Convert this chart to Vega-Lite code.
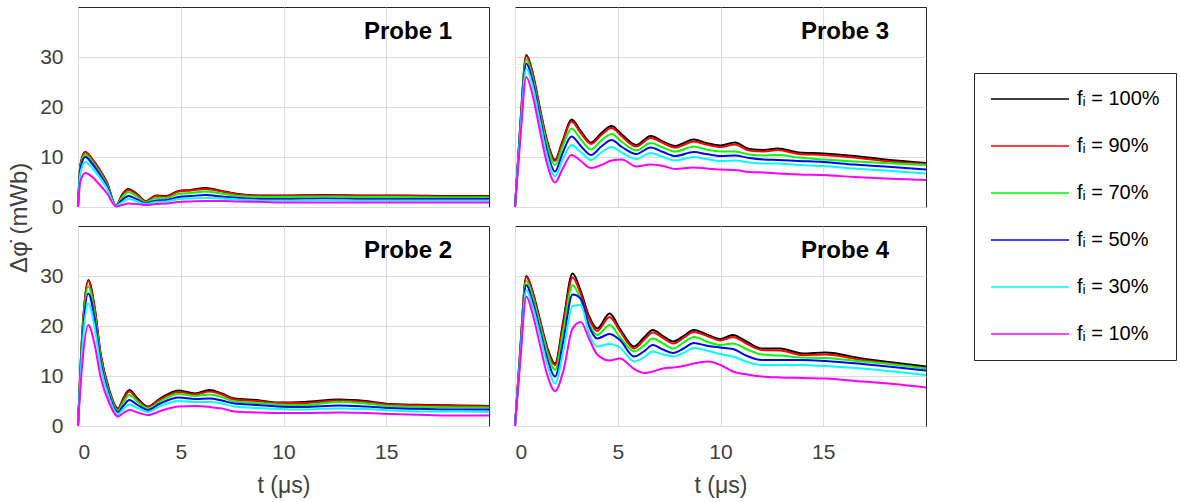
{
"$schema": "https://vega.github.io/schema/vega-lite/v6.json",
"background": "white",
"padding": {"left": 7, "top": 6, "right": 5, "bottom": 2},
"title": {"text": "Δφ̇ (mWb)", "orient": "left", "anchor": "middle", "fontSize": 24, "fontWeight": "normal", "color": "#404040", "font": "Liberation Sans", "offset": 8, "dx": 34},
"data": {"values": [
{"p":"Probe 1","f":"100","t":0,"v":0},{"p":"Probe 1","f":"100","t":0.12,"v":8.5},{"p":"Probe 1","f":"100","t":0.35,"v":11},{"p":"Probe 1","f":"100","t":0.7,"v":9.5},{"p":"Probe 1","f":"100","t":1.0,"v":7.8},{"p":"Probe 1","f":"100","t":1.4,"v":5},{"p":"Probe 1","f":"100","t":1.85,"v":0.3},{"p":"Probe 1","f":"100","t":2.15,"v":2.5},{"p":"Probe 1","f":"100","t":2.45,"v":3.6},{"p":"Probe 1","f":"100","t":2.9,"v":2.5},{"p":"Probe 1","f":"100","t":3.3,"v":1.2},{"p":"Probe 1","f":"100","t":3.8,"v":2.3},{"p":"Probe 1","f":"100","t":4.3,"v":2.2},{"p":"Probe 1","f":"100","t":4.9,"v":3.2},{"p":"Probe 1","f":"100","t":5.5,"v":3.4},{"p":"Probe 1","f":"100","t":6.2,"v":3.8},{"p":"Probe 1","f":"100","t":7.0,"v":3.2},{"p":"Probe 1","f":"100","t":7.8,"v":2.6},{"p":"Probe 1","f":"100","t":9,"v":2.3},{"p":"Probe 1","f":"100","t":10,"v":2.3},{"p":"Probe 1","f":"100","t":12,"v":2.4},{"p":"Probe 1","f":"100","t":14,"v":2.3},{"p":"Probe 1","f":"100","t":16,"v":2.3},{"p":"Probe 1","f":"100","t":18,"v":2.2},{"p":"Probe 1","f":"100","t":20,"v":2.2},
{"p":"Probe 1","f":"90","t":0,"v":0},{"p":"Probe 1","f":"90","t":0.12,"v":8.5},{"p":"Probe 1","f":"90","t":0.35,"v":11},{"p":"Probe 1","f":"90","t":0.7,"v":9.5},{"p":"Probe 1","f":"90","t":1.0,"v":7.7},{"p":"Probe 1","f":"90","t":1.4,"v":4.9},{"p":"Probe 1","f":"90","t":1.85,"v":0.3},{"p":"Probe 1","f":"90","t":2.15,"v":2.3},{"p":"Probe 1","f":"90","t":2.45,"v":3.4},{"p":"Probe 1","f":"90","t":2.9,"v":2.4},{"p":"Probe 1","f":"90","t":3.3,"v":1.1},{"p":"Probe 1","f":"90","t":3.8,"v":2.2},{"p":"Probe 1","f":"90","t":4.3,"v":2.1},{"p":"Probe 1","f":"90","t":4.9,"v":3.1},{"p":"Probe 1","f":"90","t":5.5,"v":3.3},{"p":"Probe 1","f":"90","t":6.2,"v":3.6},{"p":"Probe 1","f":"90","t":7.0,"v":3.1},{"p":"Probe 1","f":"90","t":7.8,"v":2.5},{"p":"Probe 1","f":"90","t":9,"v":2.2},{"p":"Probe 1","f":"90","t":10,"v":2.2},{"p":"Probe 1","f":"90","t":12,"v":2.3},{"p":"Probe 1","f":"90","t":14,"v":2.2},{"p":"Probe 1","f":"90","t":16,"v":2.2},{"p":"Probe 1","f":"90","t":18,"v":2.1},{"p":"Probe 1","f":"90","t":20,"v":2.1},
{"p":"Probe 1","f":"70","t":0,"v":0},{"p":"Probe 1","f":"70","t":0.12,"v":8},{"p":"Probe 1","f":"70","t":0.35,"v":10.5},{"p":"Probe 1","f":"70","t":0.7,"v":9},{"p":"Probe 1","f":"70","t":1.0,"v":7.3},{"p":"Probe 1","f":"70","t":1.4,"v":4.6},{"p":"Probe 1","f":"70","t":1.85,"v":0.2},{"p":"Probe 1","f":"70","t":2.15,"v":1.9},{"p":"Probe 1","f":"70","t":2.45,"v":3.0},{"p":"Probe 1","f":"70","t":2.9,"v":2.0},{"p":"Probe 1","f":"70","t":3.3,"v":0.9},{"p":"Probe 1","f":"70","t":3.8,"v":1.8},{"p":"Probe 1","f":"70","t":4.3,"v":1.8},{"p":"Probe 1","f":"70","t":4.9,"v":2.6},{"p":"Probe 1","f":"70","t":5.5,"v":2.8},{"p":"Probe 1","f":"70","t":6.2,"v":3.1},{"p":"Probe 1","f":"70","t":7.0,"v":2.7},{"p":"Probe 1","f":"70","t":7.8,"v":2.2},{"p":"Probe 1","f":"70","t":9,"v":2.0},{"p":"Probe 1","f":"70","t":10,"v":2.0},{"p":"Probe 1","f":"70","t":12,"v":2.1},{"p":"Probe 1","f":"70","t":14,"v":2.0},{"p":"Probe 1","f":"70","t":16,"v":2.0},{"p":"Probe 1","f":"70","t":18,"v":1.9},{"p":"Probe 1","f":"70","t":20,"v":1.9},
{"p":"Probe 1","f":"50","t":0,"v":0},{"p":"Probe 1","f":"50","t":0.12,"v":7.6},{"p":"Probe 1","f":"50","t":0.35,"v":10},{"p":"Probe 1","f":"50","t":0.7,"v":8.6},{"p":"Probe 1","f":"50","t":1.0,"v":6.9},{"p":"Probe 1","f":"50","t":1.4,"v":4.3},{"p":"Probe 1","f":"50","t":1.85,"v":0.2},{"p":"Probe 1","f":"50","t":2.15,"v":1.4},{"p":"Probe 1","f":"50","t":2.45,"v":2.2},{"p":"Probe 1","f":"50","t":2.9,"v":1.5},{"p":"Probe 1","f":"50","t":3.3,"v":0.7},{"p":"Probe 1","f":"50","t":3.8,"v":1.3},{"p":"Probe 1","f":"50","t":4.3,"v":1.4},{"p":"Probe 1","f":"50","t":4.9,"v":2.0},{"p":"Probe 1","f":"50","t":5.5,"v":2.2},{"p":"Probe 1","f":"50","t":6.2,"v":2.4},{"p":"Probe 1","f":"50","t":7.0,"v":2.1},{"p":"Probe 1","f":"50","t":7.8,"v":1.8},{"p":"Probe 1","f":"50","t":9,"v":1.6},{"p":"Probe 1","f":"50","t":10,"v":1.6},{"p":"Probe 1","f":"50","t":12,"v":1.7},{"p":"Probe 1","f":"50","t":14,"v":1.6},{"p":"Probe 1","f":"50","t":16,"v":1.6},{"p":"Probe 1","f":"50","t":18,"v":1.6},{"p":"Probe 1","f":"50","t":20,"v":1.6},
{"p":"Probe 1","f":"30","t":0,"v":0},{"p":"Probe 1","f":"30","t":0.12,"v":6.8},{"p":"Probe 1","f":"30","t":0.35,"v":9},{"p":"Probe 1","f":"30","t":0.7,"v":7.8},{"p":"Probe 1","f":"30","t":1.0,"v":6.2},{"p":"Probe 1","f":"30","t":1.4,"v":3.8},{"p":"Probe 1","f":"30","t":1.85,"v":0.2},{"p":"Probe 1","f":"30","t":2.15,"v":1.0},{"p":"Probe 1","f":"30","t":2.45,"v":1.6},{"p":"Probe 1","f":"30","t":2.9,"v":1.1},{"p":"Probe 1","f":"30","t":3.3,"v":0.6},{"p":"Probe 1","f":"30","t":3.8,"v":1.0},{"p":"Probe 1","f":"30","t":4.3,"v":1.1},{"p":"Probe 1","f":"30","t":4.9,"v":1.6},{"p":"Probe 1","f":"30","t":5.5,"v":1.7},{"p":"Probe 1","f":"30","t":6.2,"v":1.8},{"p":"Probe 1","f":"30","t":7.0,"v":1.7},{"p":"Probe 1","f":"30","t":7.8,"v":1.5},{"p":"Probe 1","f":"30","t":9,"v":1.3},{"p":"Probe 1","f":"30","t":10,"v":1.3},{"p":"Probe 1","f":"30","t":12,"v":1.4},{"p":"Probe 1","f":"30","t":14,"v":1.3},{"p":"Probe 1","f":"30","t":16,"v":1.3},{"p":"Probe 1","f":"30","t":18,"v":1.3},{"p":"Probe 1","f":"30","t":20,"v":1.3},
{"p":"Probe 1","f":"10","t":0,"v":0},{"p":"Probe 1","f":"10","t":0.12,"v":5.2},{"p":"Probe 1","f":"10","t":0.35,"v":6.8},{"p":"Probe 1","f":"10","t":0.7,"v":6.0},{"p":"Probe 1","f":"10","t":1.0,"v":4.7},{"p":"Probe 1","f":"10","t":1.4,"v":2.8},{"p":"Probe 1","f":"10","t":1.85,"v":0.1},{"p":"Probe 1","f":"10","t":2.15,"v":0.4},{"p":"Probe 1","f":"10","t":2.45,"v":0.7},{"p":"Probe 1","f":"10","t":2.9,"v":0.6},{"p":"Probe 1","f":"10","t":3.3,"v":0.4},{"p":"Probe 1","f":"10","t":3.8,"v":0.6},{"p":"Probe 1","f":"10","t":4.3,"v":0.7},{"p":"Probe 1","f":"10","t":4.9,"v":1.0},{"p":"Probe 1","f":"10","t":5.5,"v":1.1},{"p":"Probe 1","f":"10","t":6.2,"v":1.2},{"p":"Probe 1","f":"10","t":7.0,"v":1.2},{"p":"Probe 1","f":"10","t":7.8,"v":1.1},{"p":"Probe 1","f":"10","t":9,"v":1.0},{"p":"Probe 1","f":"10","t":10,"v":0.9},{"p":"Probe 1","f":"10","t":12,"v":0.9},{"p":"Probe 1","f":"10","t":14,"v":0.9},{"p":"Probe 1","f":"10","t":16,"v":0.9},{"p":"Probe 1","f":"10","t":18,"v":0.9},{"p":"Probe 1","f":"10","t":20,"v":0.9},
{"p":"Probe 3","f":"100","t":0,"v":0},{"p":"Probe 3","f":"100","t":0.25,"v":16},{"p":"Probe 3","f":"100","t":0.55,"v":30.4},{"p":"Probe 3","f":"100","t":0.85,"v":27},{"p":"Probe 3","f":"100","t":1.2,"v":20},{"p":"Probe 3","f":"100","t":1.55,"v":13.5},{"p":"Probe 3","f":"100","t":1.95,"v":9.4},{"p":"Probe 3","f":"100","t":2.3,"v":13},{"p":"Probe 3","f":"100","t":2.75,"v":17.5},{"p":"Probe 3","f":"100","t":3.2,"v":15.2},{"p":"Probe 3","f":"100","t":3.7,"v":12.9},{"p":"Probe 3","f":"100","t":4.2,"v":14.8},{"p":"Probe 3","f":"100","t":4.7,"v":16.2},{"p":"Probe 3","f":"100","t":5.2,"v":14.5},{"p":"Probe 3","f":"100","t":5.9,"v":12.4},{"p":"Probe 3","f":"100","t":6.6,"v":14.2},{"p":"Probe 3","f":"100","t":7.2,"v":13.1},{"p":"Probe 3","f":"100","t":7.8,"v":12.2},{"p":"Probe 3","f":"100","t":8.7,"v":13.5},{"p":"Probe 3","f":"100","t":9.3,"v":12.8},{"p":"Probe 3","f":"100","t":10,"v":12.3},{"p":"Probe 3","f":"100","t":10.7,"v":12.9},{"p":"Probe 3","f":"100","t":11.4,"v":11.6},{"p":"Probe 3","f":"100","t":12.1,"v":11.4},{"p":"Probe 3","f":"100","t":12.8,"v":11.7},{"p":"Probe 3","f":"100","t":13.8,"v":10.9},{"p":"Probe 3","f":"100","t":15,"v":10.7},{"p":"Probe 3","f":"100","t":16.5,"v":10.2},{"p":"Probe 3","f":"100","t":18,"v":9.5},{"p":"Probe 3","f":"100","t":20,"v":8.8},
{"p":"Probe 3","f":"90","t":0,"v":0},{"p":"Probe 3","f":"90","t":0.25,"v":15.8},{"p":"Probe 3","f":"90","t":0.55,"v":30.2},{"p":"Probe 3","f":"90","t":0.85,"v":26.8},{"p":"Probe 3","f":"90","t":1.2,"v":19.8},{"p":"Probe 3","f":"90","t":1.55,"v":13.2},{"p":"Probe 3","f":"90","t":1.95,"v":9.2},{"p":"Probe 3","f":"90","t":2.3,"v":12.7},{"p":"Probe 3","f":"90","t":2.75,"v":17.1},{"p":"Probe 3","f":"90","t":3.2,"v":14.8},{"p":"Probe 3","f":"90","t":3.7,"v":12.6},{"p":"Probe 3","f":"90","t":4.2,"v":14.4},{"p":"Probe 3","f":"90","t":4.7,"v":15.8},{"p":"Probe 3","f":"90","t":5.2,"v":14.1},{"p":"Probe 3","f":"90","t":5.9,"v":12.1},{"p":"Probe 3","f":"90","t":6.6,"v":13.8},{"p":"Probe 3","f":"90","t":7.2,"v":12.8},{"p":"Probe 3","f":"90","t":7.8,"v":11.9},{"p":"Probe 3","f":"90","t":8.7,"v":13.1},{"p":"Probe 3","f":"90","t":9.3,"v":12.5},{"p":"Probe 3","f":"90","t":10,"v":12.0},{"p":"Probe 3","f":"90","t":10.7,"v":12.5},{"p":"Probe 3","f":"90","t":11.4,"v":11.3},{"p":"Probe 3","f":"90","t":12.1,"v":11.1},{"p":"Probe 3","f":"90","t":12.8,"v":11.4},{"p":"Probe 3","f":"90","t":13.8,"v":10.6},{"p":"Probe 3","f":"90","t":15,"v":10.4},{"p":"Probe 3","f":"90","t":16.5,"v":9.9},{"p":"Probe 3","f":"90","t":18,"v":9.2},{"p":"Probe 3","f":"90","t":20,"v":8.6},
{"p":"Probe 3","f":"70","t":0,"v":0},{"p":"Probe 3","f":"70","t":0.25,"v":15.5},{"p":"Probe 3","f":"70","t":0.55,"v":29.5},{"p":"Probe 3","f":"70","t":0.85,"v":26},{"p":"Probe 3","f":"70","t":1.2,"v":19},{"p":"Probe 3","f":"70","t":1.55,"v":12.6},{"p":"Probe 3","f":"70","t":1.95,"v":8.4},{"p":"Probe 3","f":"70","t":2.3,"v":11.9},{"p":"Probe 3","f":"70","t":2.75,"v":15.7},{"p":"Probe 3","f":"70","t":3.2,"v":13.5},{"p":"Probe 3","f":"70","t":3.7,"v":11.5},{"p":"Probe 3","f":"70","t":4.2,"v":13.3},{"p":"Probe 3","f":"70","t":4.7,"v":14.6},{"p":"Probe 3","f":"70","t":5.2,"v":13},{"p":"Probe 3","f":"70","t":5.9,"v":11.3},{"p":"Probe 3","f":"70","t":6.6,"v":12.8},{"p":"Probe 3","f":"70","t":7.2,"v":11.9},{"p":"Probe 3","f":"70","t":7.8,"v":11.1},{"p":"Probe 3","f":"70","t":8.7,"v":12.1},{"p":"Probe 3","f":"70","t":9.3,"v":11.5},{"p":"Probe 3","f":"70","t":10,"v":11.1},{"p":"Probe 3","f":"70","t":10.7,"v":11.1},{"p":"Probe 3","f":"70","t":11.4,"v":10.5},{"p":"Probe 3","f":"70","t":12.1,"v":10.3},{"p":"Probe 3","f":"70","t":12.8,"v":10.4},{"p":"Probe 3","f":"70","t":13.8,"v":9.9},{"p":"Probe 3","f":"70","t":15,"v":9.5},{"p":"Probe 3","f":"70","t":16.5,"v":9.1},{"p":"Probe 3","f":"70","t":18,"v":8.8},{"p":"Probe 3","f":"70","t":20,"v":8.4},
{"p":"Probe 3","f":"50","t":0,"v":0},{"p":"Probe 3","f":"50","t":0.25,"v":15},{"p":"Probe 3","f":"50","t":0.55,"v":28.7},{"p":"Probe 3","f":"50","t":0.85,"v":25.3},{"p":"Probe 3","f":"50","t":1.2,"v":18.3},{"p":"Probe 3","f":"50","t":1.55,"v":11.4},{"p":"Probe 3","f":"50","t":1.95,"v":7.1},{"p":"Probe 3","f":"50","t":2.3,"v":10.6},{"p":"Probe 3","f":"50","t":2.75,"v":14.1},{"p":"Probe 3","f":"50","t":3.2,"v":12.2},{"p":"Probe 3","f":"50","t":3.7,"v":10.4},{"p":"Probe 3","f":"50","t":4.2,"v":12.1},{"p":"Probe 3","f":"50","t":4.7,"v":13.4},{"p":"Probe 3","f":"50","t":5.2,"v":12.0},{"p":"Probe 3","f":"50","t":5.9,"v":10.6},{"p":"Probe 3","f":"50","t":6.6,"v":11.9},{"p":"Probe 3","f":"50","t":7.2,"v":11.0},{"p":"Probe 3","f":"50","t":7.8,"v":10.2},{"p":"Probe 3","f":"50","t":8.7,"v":11.0},{"p":"Probe 3","f":"50","t":9.3,"v":10.6},{"p":"Probe 3","f":"50","t":10,"v":10.2},{"p":"Probe 3","f":"50","t":10.7,"v":10.3},{"p":"Probe 3","f":"50","t":11.4,"v":9.8},{"p":"Probe 3","f":"50","t":12.1,"v":9.5},{"p":"Probe 3","f":"50","t":12.8,"v":9.4},{"p":"Probe 3","f":"50","t":13.8,"v":9.2},{"p":"Probe 3","f":"50","t":15,"v":9.0},{"p":"Probe 3","f":"50","t":16.5,"v":8.5},{"p":"Probe 3","f":"50","t":18,"v":8.1},{"p":"Probe 3","f":"50","t":20,"v":7.5},
{"p":"Probe 3","f":"30","t":0,"v":0},{"p":"Probe 3","f":"30","t":0.25,"v":14.5},{"p":"Probe 3","f":"30","t":0.55,"v":27.7},{"p":"Probe 3","f":"30","t":0.85,"v":24.3},{"p":"Probe 3","f":"30","t":1.2,"v":17.3},{"p":"Probe 3","f":"30","t":1.55,"v":10.4},{"p":"Probe 3","f":"30","t":1.95,"v":6.1},{"p":"Probe 3","f":"30","t":2.3,"v":9.3},{"p":"Probe 3","f":"30","t":2.75,"v":12.4},{"p":"Probe 3","f":"30","t":3.2,"v":11},{"p":"Probe 3","f":"30","t":3.7,"v":9.4},{"p":"Probe 3","f":"30","t":4.2,"v":10.9},{"p":"Probe 3","f":"30","t":4.7,"v":12.0},{"p":"Probe 3","f":"30","t":5.2,"v":10.9},{"p":"Probe 3","f":"30","t":5.9,"v":9.6},{"p":"Probe 3","f":"30","t":6.6,"v":10.8},{"p":"Probe 3","f":"30","t":7.2,"v":10.0},{"p":"Probe 3","f":"30","t":7.8,"v":9.3},{"p":"Probe 3","f":"30","t":8.7,"v":10.0},{"p":"Probe 3","f":"30","t":9.3,"v":9.6},{"p":"Probe 3","f":"30","t":10,"v":9.2},{"p":"Probe 3","f":"30","t":10.7,"v":9.3},{"p":"Probe 3","f":"30","t":11.4,"v":8.9},{"p":"Probe 3","f":"30","t":12.1,"v":8.7},{"p":"Probe 3","f":"30","t":12.8,"v":8.7},{"p":"Probe 3","f":"30","t":13.8,"v":8.4},{"p":"Probe 3","f":"30","t":15,"v":8.2},{"p":"Probe 3","f":"30","t":16.5,"v":7.7},{"p":"Probe 3","f":"30","t":18,"v":7.3},{"p":"Probe 3","f":"30","t":20,"v":6.7},
{"p":"Probe 3","f":"10","t":0,"v":0},{"p":"Probe 3","f":"10","t":0.25,"v":13},{"p":"Probe 3","f":"10","t":0.55,"v":26},{"p":"Probe 3","f":"10","t":0.85,"v":22.5},{"p":"Probe 3","f":"10","t":1.2,"v":15.5},{"p":"Probe 3","f":"10","t":1.55,"v":8.8},{"p":"Probe 3","f":"10","t":1.95,"v":4.9},{"p":"Probe 3","f":"10","t":2.3,"v":7.5},{"p":"Probe 3","f":"10","t":2.75,"v":10.4},{"p":"Probe 3","f":"10","t":3.2,"v":9.2},{"p":"Probe 3","f":"10","t":3.7,"v":7.8},{"p":"Probe 3","f":"10","t":4.2,"v":8.4},{"p":"Probe 3","f":"10","t":4.7,"v":9.3},{"p":"Probe 3","f":"10","t":5.2,"v":9.5},{"p":"Probe 3","f":"10","t":5.9,"v":8.1},{"p":"Probe 3","f":"10","t":6.6,"v":8.5},{"p":"Probe 3","f":"10","t":7.2,"v":8.2},{"p":"Probe 3","f":"10","t":7.8,"v":7.6},{"p":"Probe 3","f":"10","t":8.7,"v":7.9},{"p":"Probe 3","f":"10","t":9.3,"v":7.7},{"p":"Probe 3","f":"10","t":10,"v":7.5},{"p":"Probe 3","f":"10","t":10.7,"v":7.4},{"p":"Probe 3","f":"10","t":11.4,"v":7.0},{"p":"Probe 3","f":"10","t":12.1,"v":6.9},{"p":"Probe 3","f":"10","t":12.8,"v":6.7},{"p":"Probe 3","f":"10","t":13.8,"v":6.5},{"p":"Probe 3","f":"10","t":15,"v":6.4},{"p":"Probe 3","f":"10","t":16.5,"v":6.0},{"p":"Probe 3","f":"10","t":18,"v":5.7},{"p":"Probe 3","f":"10","t":20,"v":5.4},
{"p":"Probe 2","f":"100","t":0,"v":0},{"p":"Probe 2","f":"100","t":0.2,"v":18},{"p":"Probe 2","f":"100","t":0.5,"v":29.2},{"p":"Probe 2","f":"100","t":0.8,"v":24},{"p":"Probe 2","f":"100","t":1.1,"v":14.5},{"p":"Probe 2","f":"100","t":1.5,"v":7.5},{"p":"Probe 2","f":"100","t":1.95,"v":3.5},{"p":"Probe 2","f":"100","t":2.2,"v":5.5},{"p":"Probe 2","f":"100","t":2.5,"v":7.2},{"p":"Probe 2","f":"100","t":2.9,"v":5.5},{"p":"Probe 2","f":"100","t":3.4,"v":3.9},{"p":"Probe 2","f":"100","t":4.0,"v":5.5},{"p":"Probe 2","f":"100","t":4.9,"v":7.1},{"p":"Probe 2","f":"100","t":5.7,"v":6.5},{"p":"Probe 2","f":"100","t":6.4,"v":7.2},{"p":"Probe 2","f":"100","t":7.0,"v":6.5},{"p":"Probe 2","f":"100","t":7.6,"v":5.5},{"p":"Probe 2","f":"100","t":8.7,"v":5.2},{"p":"Probe 2","f":"100","t":9.7,"v":4.7},{"p":"Probe 2","f":"100","t":11,"v":4.8},{"p":"Probe 2","f":"100","t":12.7,"v":5.3},{"p":"Probe 2","f":"100","t":14,"v":5.0},{"p":"Probe 2","f":"100","t":15.2,"v":4.4},{"p":"Probe 2","f":"100","t":17,"v":4.2},{"p":"Probe 2","f":"100","t":18.5,"v":4.1},{"p":"Probe 2","f":"100","t":20,"v":4.0},
{"p":"Probe 2","f":"90","t":0,"v":0},{"p":"Probe 2","f":"90","t":0.2,"v":18},{"p":"Probe 2","f":"90","t":0.5,"v":29},{"p":"Probe 2","f":"90","t":0.8,"v":23.8},{"p":"Probe 2","f":"90","t":1.1,"v":14.3},{"p":"Probe 2","f":"90","t":1.5,"v":7.3},{"p":"Probe 2","f":"90","t":1.95,"v":3.3},{"p":"Probe 2","f":"90","t":2.2,"v":5.2},{"p":"Probe 2","f":"90","t":2.5,"v":6.9},{"p":"Probe 2","f":"90","t":2.9,"v":5.2},{"p":"Probe 2","f":"90","t":3.4,"v":3.8},{"p":"Probe 2","f":"90","t":4.0,"v":5.3},{"p":"Probe 2","f":"90","t":4.9,"v":6.8},{"p":"Probe 2","f":"90","t":5.7,"v":6.3},{"p":"Probe 2","f":"90","t":6.4,"v":6.9},{"p":"Probe 2","f":"90","t":7.0,"v":6.3},{"p":"Probe 2","f":"90","t":7.6,"v":5.3},{"p":"Probe 2","f":"90","t":8.7,"v":5.0},{"p":"Probe 2","f":"90","t":9.7,"v":4.6},{"p":"Probe 2","f":"90","t":11,"v":4.6},{"p":"Probe 2","f":"90","t":12.7,"v":5.1},{"p":"Probe 2","f":"90","t":14,"v":4.8},{"p":"Probe 2","f":"90","t":15.2,"v":4.3},{"p":"Probe 2","f":"90","t":17,"v":4.1},{"p":"Probe 2","f":"90","t":18.5,"v":4.0},{"p":"Probe 2","f":"90","t":20,"v":3.9},
{"p":"Probe 2","f":"70","t":0,"v":0},{"p":"Probe 2","f":"70","t":0.2,"v":17},{"p":"Probe 2","f":"70","t":0.5,"v":27.9},{"p":"Probe 2","f":"70","t":0.8,"v":22.8},{"p":"Probe 2","f":"70","t":1.1,"v":13.6},{"p":"Probe 2","f":"70","t":1.5,"v":6.9},{"p":"Probe 2","f":"70","t":1.95,"v":3.1},{"p":"Probe 2","f":"70","t":2.2,"v":4.7},{"p":"Probe 2","f":"70","t":2.5,"v":6.2},{"p":"Probe 2","f":"70","t":2.9,"v":4.8},{"p":"Probe 2","f":"70","t":3.4,"v":3.5},{"p":"Probe 2","f":"70","t":4.0,"v":4.9},{"p":"Probe 2","f":"70","t":4.9,"v":6.4},{"p":"Probe 2","f":"70","t":5.7,"v":6.0},{"p":"Probe 2","f":"70","t":6.4,"v":6.3},{"p":"Probe 2","f":"70","t":7.0,"v":5.8},{"p":"Probe 2","f":"70","t":7.6,"v":4.9},{"p":"Probe 2","f":"70","t":8.7,"v":4.6},{"p":"Probe 2","f":"70","t":9.7,"v":4.3},{"p":"Probe 2","f":"70","t":11,"v":4.2},{"p":"Probe 2","f":"70","t":12.7,"v":4.8},{"p":"Probe 2","f":"70","t":14,"v":4.5},{"p":"Probe 2","f":"70","t":15.2,"v":4.0},{"p":"Probe 2","f":"70","t":17,"v":3.8},{"p":"Probe 2","f":"70","t":18.5,"v":3.7},{"p":"Probe 2","f":"70","t":20,"v":3.7},
{"p":"Probe 2","f":"50","t":0,"v":0},{"p":"Probe 2","f":"50","t":0.2,"v":16},{"p":"Probe 2","f":"50","t":0.5,"v":26.5},{"p":"Probe 2","f":"50","t":0.8,"v":21.7},{"p":"Probe 2","f":"50","t":1.1,"v":12.9},{"p":"Probe 2","f":"50","t":1.5,"v":6.4},{"p":"Probe 2","f":"50","t":1.95,"v":2.8},{"p":"Probe 2","f":"50","t":2.2,"v":4.0},{"p":"Probe 2","f":"50","t":2.5,"v":5.2},{"p":"Probe 2","f":"50","t":2.9,"v":4.2},{"p":"Probe 2","f":"50","t":3.4,"v":3.2},{"p":"Probe 2","f":"50","t":4.0,"v":4.5},{"p":"Probe 2","f":"50","t":4.9,"v":5.7},{"p":"Probe 2","f":"50","t":5.7,"v":5.4},{"p":"Probe 2","f":"50","t":6.4,"v":5.5},{"p":"Probe 2","f":"50","t":7.0,"v":5.1},{"p":"Probe 2","f":"50","t":7.6,"v":4.5},{"p":"Probe 2","f":"50","t":8.7,"v":4.2},{"p":"Probe 2","f":"50","t":9.7,"v":3.9},{"p":"Probe 2","f":"50","t":11,"v":3.8},{"p":"Probe 2","f":"50","t":12.7,"v":4.1},{"p":"Probe 2","f":"50","t":14,"v":3.9},{"p":"Probe 2","f":"50","t":15.2,"v":3.6},{"p":"Probe 2","f":"50","t":17,"v":3.4},{"p":"Probe 2","f":"50","t":18.5,"v":3.3},{"p":"Probe 2","f":"50","t":20,"v":3.3},
{"p":"Probe 2","f":"30","t":0,"v":0},{"p":"Probe 2","f":"30","t":0.2,"v":15},{"p":"Probe 2","f":"30","t":0.5,"v":24.5},{"p":"Probe 2","f":"30","t":0.8,"v":20},{"p":"Probe 2","f":"30","t":1.1,"v":11.9},{"p":"Probe 2","f":"30","t":1.5,"v":5.8},{"p":"Probe 2","f":"30","t":1.95,"v":2.4},{"p":"Probe 2","f":"30","t":2.2,"v":3.4},{"p":"Probe 2","f":"30","t":2.5,"v":4.3},{"p":"Probe 2","f":"30","t":2.9,"v":3.6},{"p":"Probe 2","f":"30","t":3.4,"v":2.8},{"p":"Probe 2","f":"30","t":4.0,"v":4.0},{"p":"Probe 2","f":"30","t":4.9,"v":5.0},{"p":"Probe 2","f":"30","t":5.7,"v":4.8},{"p":"Probe 2","f":"30","t":6.4,"v":4.8},{"p":"Probe 2","f":"30","t":7.0,"v":4.5},{"p":"Probe 2","f":"30","t":7.6,"v":3.9},{"p":"Probe 2","f":"30","t":8.7,"v":3.6},{"p":"Probe 2","f":"30","t":9.7,"v":3.4},{"p":"Probe 2","f":"30","t":11,"v":3.3},{"p":"Probe 2","f":"30","t":12.7,"v":3.5},{"p":"Probe 2","f":"30","t":14,"v":3.4},{"p":"Probe 2","f":"30","t":15.2,"v":3.1},{"p":"Probe 2","f":"30","t":17,"v":2.9},{"p":"Probe 2","f":"30","t":18.5,"v":2.9},{"p":"Probe 2","f":"30","t":20,"v":2.8},
{"p":"Probe 2","f":"10","t":0,"v":0},{"p":"Probe 2","f":"10","t":0.2,"v":12},{"p":"Probe 2","f":"10","t":0.5,"v":20.2},{"p":"Probe 2","f":"10","t":0.8,"v":16.5},{"p":"Probe 2","f":"10","t":1.1,"v":9.8},{"p":"Probe 2","f":"10","t":1.5,"v":4.8},{"p":"Probe 2","f":"10","t":1.95,"v":1.9},{"p":"Probe 2","f":"10","t":2.2,"v":2.6},{"p":"Probe 2","f":"10","t":2.5,"v":3.2},{"p":"Probe 2","f":"10","t":2.9,"v":2.7},{"p":"Probe 2","f":"10","t":3.4,"v":2.2},{"p":"Probe 2","f":"10","t":4.0,"v":3.0},{"p":"Probe 2","f":"10","t":4.9,"v":3.9},{"p":"Probe 2","f":"10","t":5.7,"v":4.0},{"p":"Probe 2","f":"10","t":6.4,"v":3.8},{"p":"Probe 2","f":"10","t":7.0,"v":3.5},{"p":"Probe 2","f":"10","t":7.6,"v":2.9},{"p":"Probe 2","f":"10","t":8.7,"v":2.7},{"p":"Probe 2","f":"10","t":9.7,"v":2.6},{"p":"Probe 2","f":"10","t":11,"v":2.6},{"p":"Probe 2","f":"10","t":12.7,"v":2.7},{"p":"Probe 2","f":"10","t":14,"v":2.6},{"p":"Probe 2","f":"10","t":15.2,"v":2.4},{"p":"Probe 2","f":"10","t":17,"v":2.2},{"p":"Probe 2","f":"10","t":18.5,"v":2.1},{"p":"Probe 2","f":"10","t":20,"v":2.1},
{"p":"Probe 4","f":"100","t":0,"v":0},{"p":"Probe 4","f":"100","t":0.25,"v":15},{"p":"Probe 4","f":"100","t":0.55,"v":30},{"p":"Probe 4","f":"100","t":0.85,"v":27},{"p":"Probe 4","f":"100","t":1.2,"v":21.5},{"p":"Probe 4","f":"100","t":1.55,"v":16},{"p":"Probe 4","f":"100","t":1.95,"v":12.5},{"p":"Probe 4","f":"100","t":2.35,"v":21},{"p":"Probe 4","f":"100","t":2.8,"v":30.5},{"p":"Probe 4","f":"100","t":3.2,"v":27},{"p":"Probe 4","f":"100","t":3.6,"v":22},{"p":"Probe 4","f":"100","t":4.0,"v":19.5},{"p":"Probe 4","f":"100","t":4.6,"v":22.5},{"p":"Probe 4","f":"100","t":5.1,"v":19.5},{"p":"Probe 4","f":"100","t":5.8,"v":15.9},{"p":"Probe 4","f":"100","t":6.3,"v":17.8},{"p":"Probe 4","f":"100","t":6.7,"v":19.2},{"p":"Probe 4","f":"100","t":7.2,"v":18},{"p":"Probe 4","f":"100","t":7.7,"v":16.9},{"p":"Probe 4","f":"100","t":8.2,"v":18},{"p":"Probe 4","f":"100","t":8.7,"v":19.2},{"p":"Probe 4","f":"100","t":9.4,"v":18.2},{"p":"Probe 4","f":"100","t":10,"v":17.4},{"p":"Probe 4","f":"100","t":10.6,"v":18.2},{"p":"Probe 4","f":"100","t":11.3,"v":16.8},{"p":"Probe 4","f":"100","t":12,"v":15.5},{"p":"Probe 4","f":"100","t":12.9,"v":15.5},{"p":"Probe 4","f":"100","t":14,"v":14.5},{"p":"Probe 4","f":"100","t":15.1,"v":14.7},{"p":"Probe 4","f":"100","t":16.9,"v":13.5},{"p":"Probe 4","f":"100","t":18.4,"v":12.7},{"p":"Probe 4","f":"100","t":20,"v":11.9},
{"p":"Probe 4","f":"90","t":0,"v":0},{"p":"Probe 4","f":"90","t":0.25,"v":14.9},{"p":"Probe 4","f":"90","t":0.55,"v":29.8},{"p":"Probe 4","f":"90","t":0.85,"v":26.8},{"p":"Probe 4","f":"90","t":1.2,"v":21.2},{"p":"Probe 4","f":"90","t":1.55,"v":15.7},{"p":"Probe 4","f":"90","t":1.95,"v":12.2},{"p":"Probe 4","f":"90","t":2.35,"v":20.3},{"p":"Probe 4","f":"90","t":2.8,"v":29.7},{"p":"Probe 4","f":"90","t":3.2,"v":26.4},{"p":"Probe 4","f":"90","t":3.6,"v":21.5},{"p":"Probe 4","f":"90","t":4.0,"v":19.0},{"p":"Probe 4","f":"90","t":4.6,"v":21.8},{"p":"Probe 4","f":"90","t":5.1,"v":19.0},{"p":"Probe 4","f":"90","t":5.8,"v":15.5},{"p":"Probe 4","f":"90","t":6.3,"v":17.3},{"p":"Probe 4","f":"90","t":6.7,"v":18.7},{"p":"Probe 4","f":"90","t":7.2,"v":17.6},{"p":"Probe 4","f":"90","t":7.7,"v":16.5},{"p":"Probe 4","f":"90","t":8.2,"v":17.6},{"p":"Probe 4","f":"90","t":8.7,"v":18.8},{"p":"Probe 4","f":"90","t":9.4,"v":17.9},{"p":"Probe 4","f":"90","t":10,"v":17.1},{"p":"Probe 4","f":"90","t":10.6,"v":17.8},{"p":"Probe 4","f":"90","t":11.3,"v":16.4},{"p":"Probe 4","f":"90","t":12,"v":15.2},{"p":"Probe 4","f":"90","t":12.9,"v":15.1},{"p":"Probe 4","f":"90","t":14,"v":14.2},{"p":"Probe 4","f":"90","t":15.1,"v":14.3},{"p":"Probe 4","f":"90","t":16.9,"v":13.2},{"p":"Probe 4","f":"90","t":18.4,"v":12.4},{"p":"Probe 4","f":"90","t":20,"v":11.6},
{"p":"Probe 4","f":"70","t":0,"v":0},{"p":"Probe 4","f":"70","t":0.25,"v":14.5},{"p":"Probe 4","f":"70","t":0.55,"v":29},{"p":"Probe 4","f":"70","t":0.85,"v":26},{"p":"Probe 4","f":"70","t":1.2,"v":20.5},{"p":"Probe 4","f":"70","t":1.55,"v":15},{"p":"Probe 4","f":"70","t":1.95,"v":11.2},{"p":"Probe 4","f":"70","t":2.35,"v":19},{"p":"Probe 4","f":"70","t":2.8,"v":28.2},{"p":"Probe 4","f":"70","t":3.2,"v":25.2},{"p":"Probe 4","f":"70","t":3.6,"v":20.5},{"p":"Probe 4","f":"70","t":4.0,"v":18.2},{"p":"Probe 4","f":"70","t":4.6,"v":20.2},{"p":"Probe 4","f":"70","t":5.1,"v":17.8},{"p":"Probe 4","f":"70","t":5.8,"v":14.9},{"p":"Probe 4","f":"70","t":6.3,"v":16.2},{"p":"Probe 4","f":"70","t":6.7,"v":17.5},{"p":"Probe 4","f":"70","t":7.2,"v":16.5},{"p":"Probe 4","f":"70","t":7.7,"v":15.5},{"p":"Probe 4","f":"70","t":8.2,"v":16.7},{"p":"Probe 4","f":"70","t":8.7,"v":17.8},{"p":"Probe 4","f":"70","t":9.4,"v":16.8},{"p":"Probe 4","f":"70","t":10,"v":16.2},{"p":"Probe 4","f":"70","t":10.6,"v":16.5},{"p":"Probe 4","f":"70","t":11.3,"v":15.3},{"p":"Probe 4","f":"70","t":12,"v":14.3},{"p":"Probe 4","f":"70","t":12.9,"v":14.1},{"p":"Probe 4","f":"70","t":14,"v":13.7},{"p":"Probe 4","f":"70","t":15.1,"v":13.6},{"p":"Probe 4","f":"70","t":16.9,"v":12.9},{"p":"Probe 4","f":"70","t":18.4,"v":12.3},{"p":"Probe 4","f":"70","t":20,"v":11.5},
{"p":"Probe 4","f":"50","t":0,"v":0},{"p":"Probe 4","f":"50","t":0.25,"v":14},{"p":"Probe 4","f":"50","t":0.55,"v":28.2},{"p":"Probe 4","f":"50","t":0.85,"v":25},{"p":"Probe 4","f":"50","t":1.2,"v":19.5},{"p":"Probe 4","f":"50","t":1.55,"v":13.8},{"p":"Probe 4","f":"50","t":1.95,"v":9.9},{"p":"Probe 4","f":"50","t":2.35,"v":17},{"p":"Probe 4","f":"50","t":2.8,"v":26.3},{"p":"Probe 4","f":"50","t":3.2,"v":25.5},{"p":"Probe 4","f":"50","t":3.6,"v":20},{"p":"Probe 4","f":"50","t":4.0,"v":17.5},{"p":"Probe 4","f":"50","t":4.6,"v":18.4},{"p":"Probe 4","f":"50","t":5.1,"v":17.2},{"p":"Probe 4","f":"50","t":5.8,"v":13.9},{"p":"Probe 4","f":"50","t":6.3,"v":15.0},{"p":"Probe 4","f":"50","t":6.7,"v":16.2},{"p":"Probe 4","f":"50","t":7.2,"v":15.3},{"p":"Probe 4","f":"50","t":7.7,"v":14.6},{"p":"Probe 4","f":"50","t":8.2,"v":15.5},{"p":"Probe 4","f":"50","t":8.7,"v":16.6},{"p":"Probe 4","f":"50","t":9.4,"v":16.0},{"p":"Probe 4","f":"50","t":10,"v":15.7},{"p":"Probe 4","f":"50","t":10.6,"v":15.4},{"p":"Probe 4","f":"50","t":11.3,"v":14.0},{"p":"Probe 4","f":"50","t":12,"v":13.2},{"p":"Probe 4","f":"50","t":12.9,"v":13.2},{"p":"Probe 4","f":"50","t":14,"v":13.2},{"p":"Probe 4","f":"50","t":15.1,"v":13.0},{"p":"Probe 4","f":"50","t":16.9,"v":12.4},{"p":"Probe 4","f":"50","t":18.4,"v":11.8},{"p":"Probe 4","f":"50","t":20,"v":11.1},
{"p":"Probe 4","f":"30","t":0,"v":0},{"p":"Probe 4","f":"30","t":0.25,"v":13.5},{"p":"Probe 4","f":"30","t":0.55,"v":27.2},{"p":"Probe 4","f":"30","t":0.85,"v":24},{"p":"Probe 4","f":"30","t":1.2,"v":18.5},{"p":"Probe 4","f":"30","t":1.55,"v":12.6},{"p":"Probe 4","f":"30","t":1.95,"v":8.5},{"p":"Probe 4","f":"30","t":2.35,"v":15},{"p":"Probe 4","f":"30","t":2.8,"v":24.0},{"p":"Probe 4","f":"30","t":3.2,"v":24.2},{"p":"Probe 4","f":"30","t":3.6,"v":18.5},{"p":"Probe 4","f":"30","t":4.0,"v":15.9},{"p":"Probe 4","f":"30","t":4.6,"v":16.4},{"p":"Probe 4","f":"30","t":5.1,"v":15.7},{"p":"Probe 4","f":"30","t":5.8,"v":12.9},{"p":"Probe 4","f":"30","t":6.3,"v":13.8},{"p":"Probe 4","f":"30","t":6.7,"v":14.9},{"p":"Probe 4","f":"30","t":7.2,"v":14.3},{"p":"Probe 4","f":"30","t":7.7,"v":13.9},{"p":"Probe 4","f":"30","t":8.2,"v":14.6},{"p":"Probe 4","f":"30","t":8.7,"v":15.6},{"p":"Probe 4","f":"30","t":9.4,"v":15.0},{"p":"Probe 4","f":"30","t":10,"v":14.4},{"p":"Probe 4","f":"30","t":10.6,"v":13.9},{"p":"Probe 4","f":"30","t":11.3,"v":12.8},{"p":"Probe 4","f":"30","t":12,"v":12.2},{"p":"Probe 4","f":"30","t":12.9,"v":12.2},{"p":"Probe 4","f":"30","t":14,"v":12.2},{"p":"Probe 4","f":"30","t":15.1,"v":12.0},{"p":"Probe 4","f":"30","t":16.9,"v":11.5},{"p":"Probe 4","f":"30","t":18.4,"v":10.9},{"p":"Probe 4","f":"30","t":20,"v":10.2},
{"p":"Probe 4","f":"10","t":0,"v":0},{"p":"Probe 4","f":"10","t":0.25,"v":12.5},{"p":"Probe 4","f":"10","t":0.55,"v":25.9},{"p":"Probe 4","f":"10","t":0.85,"v":22.5},{"p":"Probe 4","f":"10","t":1.2,"v":16.5},{"p":"Probe 4","f":"10","t":1.55,"v":10.5},{"p":"Probe 4","f":"10","t":1.95,"v":7.0},{"p":"Probe 4","f":"10","t":2.35,"v":11.0},{"p":"Probe 4","f":"10","t":2.8,"v":19.5},{"p":"Probe 4","f":"10","t":3.2,"v":20.8},{"p":"Probe 4","f":"10","t":3.6,"v":17.5},{"p":"Probe 4","f":"10","t":4.0,"v":14.3},{"p":"Probe 4","f":"10","t":4.6,"v":13.1},{"p":"Probe 4","f":"10","t":5.1,"v":13.5},{"p":"Probe 4","f":"10","t":5.8,"v":11.4},{"p":"Probe 4","f":"10","t":6.3,"v":10.6},{"p":"Probe 4","f":"10","t":6.7,"v":10.9},{"p":"Probe 4","f":"10","t":7.2,"v":11.5},{"p":"Probe 4","f":"10","t":7.7,"v":11.7},{"p":"Probe 4","f":"10","t":8.2,"v":12.0},{"p":"Probe 4","f":"10","t":8.7,"v":12.5},{"p":"Probe 4","f":"10","t":9.4,"v":12.9},{"p":"Probe 4","f":"10","t":10,"v":12.2},{"p":"Probe 4","f":"10","t":10.6,"v":10.9},{"p":"Probe 4","f":"10","t":11.3,"v":10.3},{"p":"Probe 4","f":"10","t":12,"v":9.9},{"p":"Probe 4","f":"10","t":12.9,"v":9.7},{"p":"Probe 4","f":"10","t":14,"v":9.6},{"p":"Probe 4","f":"10","t":15.1,"v":9.5},{"p":"Probe 4","f":"10","t":16.9,"v":8.9},{"p":"Probe 4","f":"10","t":18.4,"v":8.4},{"p":"Probe 4","f":"10","t":20,"v":7.7}
]},
"facet": {"field": "p", "type": "nominal", "sort": ["Probe 1", "Probe 3", "Probe 2", "Probe 4"], "header": {"title": null, "labels": false, "labelExpr": "''", "labelFontSize": 0, "labelPadding": 0}},
"columns": 2,
"spacing": {"row": 13, "column": 16},
"spec": {
  "width": 411,
  "height": 200,
  "layer": [
    {
      "mark": {"type": "line", "strokeWidth": 2, "interpolate": "monotone"},
      "encoding": {
        "x": {"field": "t", "type": "quantitative", "scale": {"domain": [0, 20], "nice": false}, "axis": {"values": [0, 5, 10, 15], "title": "t (μs)"}},
        "y": {"field": "v", "type": "quantitative", "scale": {"domain": [0, 40], "nice": false}, "axis": {"values": [0, 10, 20, 30], "title": null}},
        "color": {"field": "f", "type": "nominal",
          "scale": {"domain": ["100", "90", "70", "50", "30", "10"], "range": ["#000000", "#ff0000", "#00ff00", "#0000ff", "#00ffff", "#ff00ff"]},
          "legend": {"title": null, "labelExpr": "'fᵢ = ' + datum.label + '%'"}}
      }
    },
    {
      "transform": [{"filter": "datum.f == '100' && datum.t == 0"}],
      "mark": {"type": "text", "align": "right", "baseline": "alphabetic", "fontSize": 24, "fontWeight": "bold", "font": "Liberation Sans", "color": "#000000"},
      "encoding": {"x": {"datum": 18.2}, "y": {"datum": 33.6}, "text": {"field": "p"}}
    }
  ]
},
"config": {
  "font": "Liberation Sans",
  "header": {"labels": false, "title": null, "labelFontSize": 0, "labelPadding": 0, "titlePadding": 0},
  "view": {"stroke": "#262626", "strokeWidth": 1},
  "axis": {"domain": false, "ticks": false, "grid": true, "gridColor": "#dcdcdc", "gridWidth": 1, "labelFont": "Liberation Sans", "labelFontSize": 21, "labelColor": "#404040", "labelPadding": 10, "titleFont": "Liberation Sans", "titleFontSize": 23, "titleFontWeight": "normal", "titleColor": "#404040", "titlePadding": 12},
  "legend": {"orient": "none", "legendX": 896, "legendY": 66, "symbolType": "stroke", "symbolSize": 6084, "symbolStrokeWidth": 1.5, "clipHeight": 20, "rowPadding": 27, "labelOffset": 7, "labelFontSize": 20, "labelFont": "Liberation Sans", "labelColor": "#000000", "padding": 16, "strokeColor": "#262626", "fillColor": "white"}
}
}
